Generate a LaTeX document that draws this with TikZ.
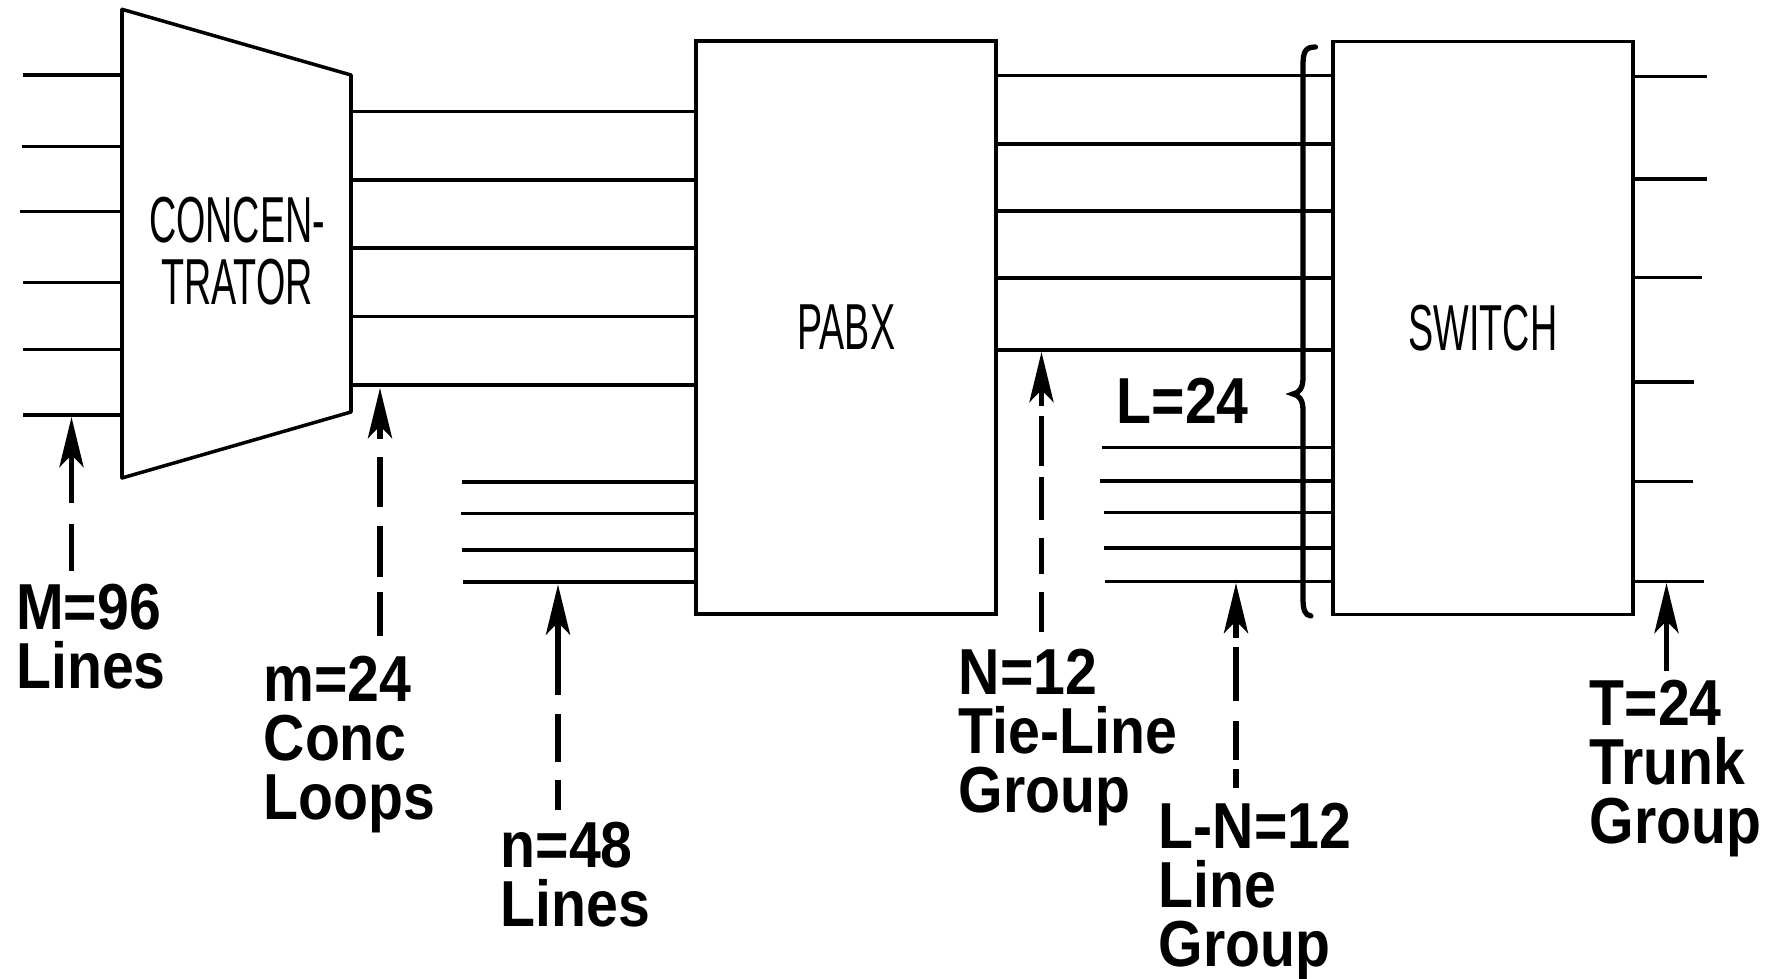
\documentclass[tikz,border=0pt]{standalone}
\usepackage{fontspec}
\setmainfont{Liberation Sans}
\newfontfamily\narrowfont[FakeStretch=0.58]{Liberation Sans}
\newfontfamily\labelfont[FakeStretch=0.88]{Liberation Sans}
\usetikzlibrary{arrows.meta}

\begin{document}
\begin{tikzpicture}
      \tikzstyle{wire} = [line width=1pt]
      \tikzstyle{block} = [draw, rectangle, wire, minimum width=3cm,
                           minimum height=5.73cm, inner sep=0pt,
                           font=\narrowfont\fontsize{18.5}{17.6}\selectfont]
      \tikzstyle{figtext} = [anchor=north west, inner sep=0pt, align=left,
                             font=\labelfont\bfseries\fontsize{18.5}{16.8}\selectfont]
      \tikzstyle{pointer} = [line width=1.6pt,
                             -{Stealth[length=5mm, width=2.4mm, inset=1.2mm]}]

      \useasboundingbox (0,0) rectangle (17.71,-9.79);

      % concentrator
      \coordinate (c1) at (1.22,-0.093);
      \coordinate (c2) at (3.51,-0.75);
      \coordinate (c3) at (3.51,-4.12);
      \coordinate (c4) at (1.22,-4.78);
      \draw[wire, line join=round] (c1) -- (c2) -- (c3) -- (c4) -- cycle;
      \node[inner sep=0pt, align=center,
            font=\narrowfont\fontsize{18.5}{17.6}\selectfont]
            (conc) at (2.37,-2.515) {CONCEN-\\TRATOR};

      \node[block] (pabx) at (8.4625,-3.275) {PABX};
      \node[block] (switch) at (14.83,-3.28) {SWITCH};

      % incoming lines
      \draw[wire] (0.23,-0.75) -- (c1 |- 0,-0.75)
                  (0.22,-1.467) -- (c1 |- 0,-1.467)
                  (0.20,-2.117) -- (c1 |- 0,-2.117)
                  (0.23,-2.827) -- (c1 |- 0,-2.827)
                  (0.23,-3.493) -- (c1 |- 0,-3.493)
                  (0.23,-4.15) -- (c1 |- 0,-4.15);

      % concentrator loops
      \draw[wire] (c2 |- 0,-1.115) -- (pabx.west |- 0,-1.115)
                  (c2 |- 0,-1.80) -- (pabx.west |- 0,-1.80)
                  (c2 |- 0,-2.48) -- (pabx.west |- 0,-2.48)
                  (c2 |- 0,-3.165) -- (pabx.west |- 0,-3.165)
                  (c2 |- 0,-3.85) -- (pabx.west |- 0,-3.85);

      % direct lines
      \draw[wire] (4.62,-4.82) -- (pabx.west |- 0,-4.82)
                  (4.61,-5.135) -- (pabx.west |- 0,-5.135)
                  (4.62,-5.50) -- (pabx.west |- 0,-5.50)
                  (4.63,-5.82) -- (pabx.west |- 0,-5.82);

      % tie lines
      \draw[wire] (pabx.east |- 0,-0.755) -- (switch.west |- 0,-0.755)
                  (pabx.east |- 0,-1.44) -- (switch.west |- 0,-1.44)
                  (pabx.east |- 0,-2.11) -- (switch.west |- 0,-2.11)
                  (pabx.east |- 0,-2.78) -- (switch.west |- 0,-2.78)
                  (pabx.east |- 0,-3.50) -- (switch.west |- 0,-3.50);

      % line group
      \draw[wire] (11.02,-4.475) -- (switch.west |- 0,-4.475)
                  (11.00,-4.81) -- (switch.west |- 0,-4.81)
                  (11.04,-5.125) -- (switch.west |- 0,-5.125)
                  (11.04,-5.48) -- (switch.west |- 0,-5.48)
                  (11.05,-5.815) -- (switch.west |- 0,-5.815);

      % trunks
      \draw[wire] (switch.east |- 0,-0.767) -- (17.065,-0.767)
                  (switch.east |- 0,-1.788) -- (17.065,-1.788)
                  (switch.east |- 0,-2.776) -- (17.02,-2.776)
                  (switch.east |- 0,-3.82) -- (16.94,-3.82)
                  (switch.east |- 0,-4.816) -- (16.93,-4.816)
                  (switch.east |- 0,-5.816) -- (17.04,-5.816);

      % brace
      \draw[line width=1.5pt, line cap=round]
            (13.155,-0.47) .. controls (13.05,-0.47) and (13.03,-0.52) .. (13.03,-0.66)
            -- (13.03,-3.78) .. controls (13.03,-3.88) and (12.99,-3.93) .. (12.93,-3.94)
            .. controls (12.99,-3.95) and (13.03,-4.0) .. (13.03,-4.10)
            -- (13.03,-5.97) .. controls (13.03,-6.11) and (13.05,-6.15) .. (13.11,-6.16);
      \node[figtext] (ltot) at (11.16,-3.775) {L=24};

      % labels
      \node[figtext] (mlab) at (0.156,-5.835) {M=96\\Lines};
      \node[figtext] (clab) at (2.63,-6.55) {m=24\\Conc\\Loops};
      \node[figtext] (nlab) at (5.00,-8.21) {n=48\\Lines};
      \node[figtext] (tlab) at (9.58,-6.48) {N=12\\Tie-Line\\Group};
      \node[figtext] (glab) at (11.58,-8.025) {L-N=12\\Line\\Group};
      \node[figtext] (klab) at (15.89,-6.79) {T=24\\Trunk\\Group};

      \coordinate (mtip) at (0.715,-4.17);
      \coordinate (ctip) at (3.80,-3.88);
      \coordinate (ntip) at (5.58,-5.845);
      \coordinate (ttip) at (10.415,-3.52);
      \coordinate (gtip) at (12.36,-5.83);
      \coordinate (ktip) at (16.665,-5.83);

      \draw[pointer, shorten <=1.25mm, dash pattern=on 4.7mm off 2.1mm on 10cm]
            (mtip |- mlab.north) -- (mtip);
      \draw[pointer, shorten <=1.9mm,
            dash pattern=on 4.4mm off 1.5mm on 5.1mm off 1.9mm on 5mm off 1.8mm on 10cm]
            (ctip |- clab.north) -- (ctip);
      \draw[pointer, shorten <=1.1mm,
            dash pattern=on 3mm off 1.8mm on 4.8mm off 1.9mm on 10cm]
            (ntip |- nlab.north) -- (ntip);
      \draw[pointer, shorten <=1.6mm,
            dash pattern=on 4mm off 1.8mm on 3.6mm off 1.8mm on 4.3mm off 1.1mm on 5mm off 1mm on 10cm]
            (ttip |- tlab.north) -- (ttip);
      \draw[pointer, shorten <=1.45mm,
            dash pattern=on 1.9mm off 0.9mm on 3.9mm off 2mm on 5.4mm off 0.9mm on 10cm]
            (gtip |- glab.north) -- (gtip);
      \draw[pointer, shorten <=0.8mm] (ktip |- klab.north) -- (ktip);
    \end{tikzpicture}
\end{document}
